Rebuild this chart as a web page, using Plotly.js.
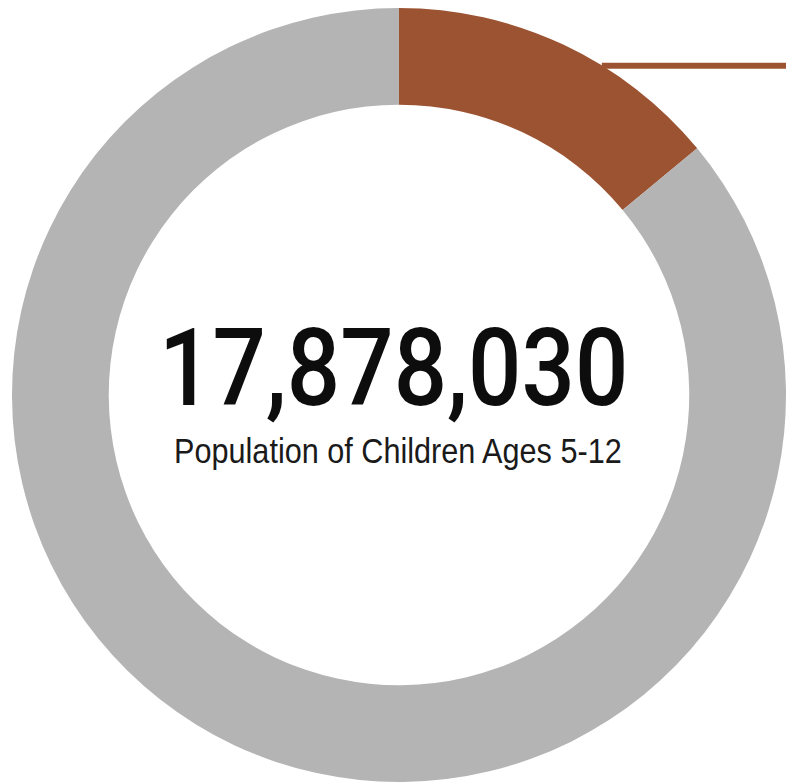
<!DOCTYPE html>
<html>
<head>
<meta charset="utf-8">
<script src="https://cdn.plot.ly/plotly-3.0.1.min.js"></script>
<style>
  html, body { margin: 0; padding: 0; background: #ffffff; }
  #chart { width: 786px; height: 784px; }
  .bignum text.annotation-text {
    transform-box: fill-box;
    transform-origin: center;
    transform: scaleX(0.87);
  }
  .subline text.annotation-text {
    transform-box: fill-box;
    transform-origin: center;
    transform: scaleX(0.875);
  }
</style>
</head>
<body>
<div id="chart"></div>
<script>
// Data
const sliceLabels = ["Highlighted share", "Remaining population"];
const sliceValues = [14, 86];
const sliceColors = ["#9C5331", "#B4B4B4"];
const totalLabel = "17,878,030";
const subtitleLabel = "Population of Children Ages 5-12";

const data = [{
  type: "pie",
  labels: sliceLabels,
  values: sliceValues,
  hole: 0.75,
  sort: false,
  direction: "clockwise",
  rotation: 0,
  textinfo: "none",
  hoverinfo: "none",
  marker: { colors: sliceColors, line: { width: 0 } },
  showlegend: false
}];

const layout = {
  width: 786,
  height: 784,
  margin: { l: 12, r: 0, t: 7, b: 1 },
  paper_bgcolor: "#ffffff",
  plot_bgcolor: "#ffffff",
  showlegend: false,
  annotations: [
    {
      text: totalLabel,
      xref: "paper", yref: "paper",
      x: 0.4935, y: 0.535,
      xanchor: "center", yanchor: "middle",
      showarrow: false,
      font: { family: "Roboto, 'Noto Sans', sans-serif", size: 108, weight: 500, color: "#0d0d0d" }
    },
    {
      text: subtitleLabel,
      xref: "paper", yref: "paper",
      x: 0.4987, y: 0.428,
      xanchor: "center", yanchor: "middle",
      showarrow: false,
      font: { family: "'Liberation Sans', Arial, sans-serif", size: 35, color: "#1a1a1a" }
    }
  ],
  shapes: [
    {
      type: "line",
      xref: "paper", yref: "paper",
      x0: 0.762, x1: 1.0, y0: 0.9244, y1: 0.9244,
      line: { color: "#9C5331", width: 6 }
    }
  ]
};

Plotly.newPlot("chart", data, layout, { displayModeBar: false, staticPlot: true }).then(function () {
  const anns = document.querySelectorAll(".annotation");
  if (anns.length > 0) anns[0].classList.add("bignum");
  if (anns.length > 1) anns[1].classList.add("subline");
});
</script>
</body>
</html>
